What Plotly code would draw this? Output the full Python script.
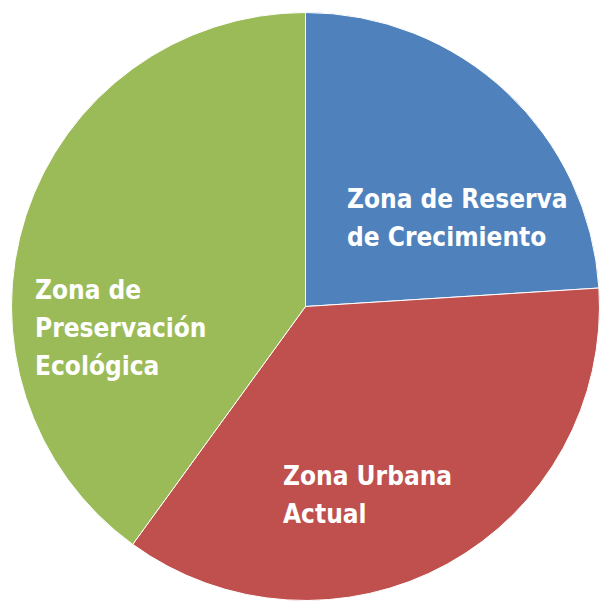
import plotly.graph_objects as go

# Land-use zones (share of total area, %)
zones = ["Zona de Reserva<br>de Crecimiento", "Zona Urbana<br>Actual", "Zona de<br>Preservación<br>Ecológica"]
shares = [24, 36, 40]
colors = ["#4F81BD", "#C0504D", "#9BBB59"]

W = H = 601

fig = go.Figure(
    go.Pie(
        labels=zones,
        values=shares,
        sort=False,
        direction="clockwise",
        rotation=0,
        textinfo="none",
        marker=dict(colors=colors, line=dict(color="white", width=1)),
        domain=dict(x=[10 / W, 1.0], y=[0.5 / H, 1 - 12.5 / H]),
        showlegend=False,
    )
)

# Label anchor points (left edge, cap-centre of first line) in pixels, with line pitch
label_pos = [(345, 199), (281, 476), (33, 290)]
line_pitch = 38

annotations = []
for text, (px, py) in zip(zones, label_pos):
    for i, line in enumerate(text.split("<br>")):
        annotations.append(
            dict(
                text=line,
                x=px / W,
                y=1 - (py + i * line_pitch) / H,
                xref="paper",
                yref="paper",
                xanchor="left",
                yanchor="middle",
                showarrow=False,
                font=dict(family="Liberation Sans Narrow, DejaVu Sans Condensed, Arial Narrow, sans-serif",
                          size=26, color="white", weight="bold"),
            )
        )

fig.update_layout(
    width=W,
    height=H,
    margin=dict(l=0, r=0, t=0, b=0),
    paper_bgcolor="white",
    plot_bgcolor="white",
    annotations=annotations,
)

fig.write_html("out.html")
